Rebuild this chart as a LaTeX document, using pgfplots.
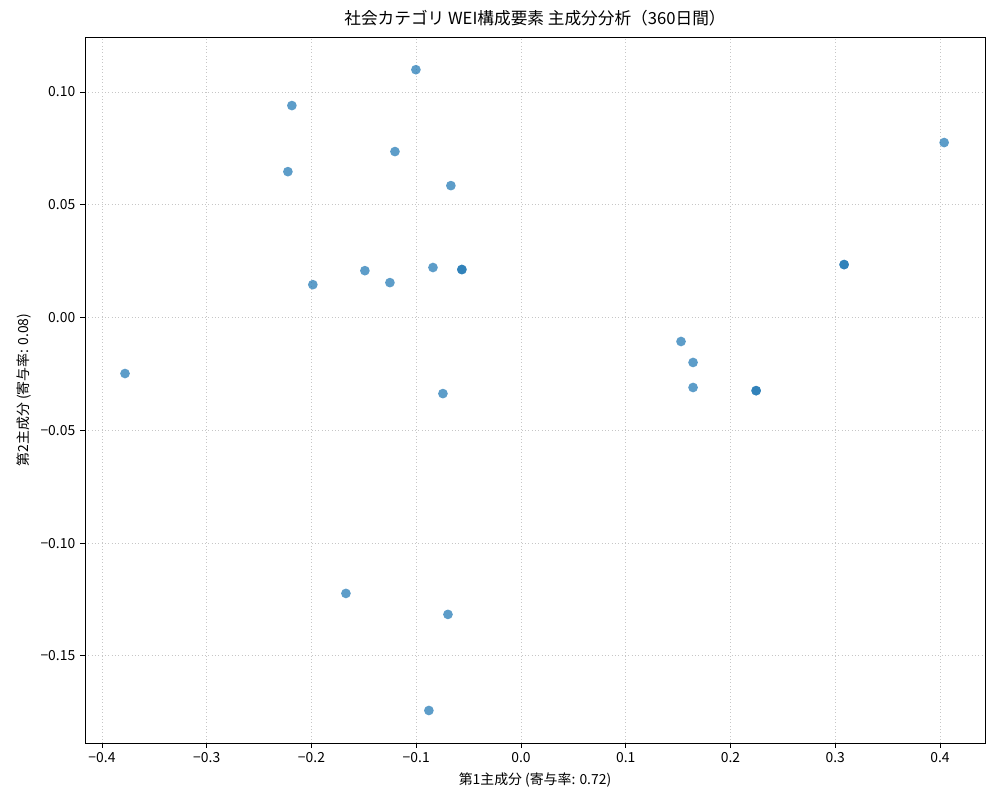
\documentclass[border=0pt]{standalone}
\usepackage{pgfplots}
\pgfplotsset{compat=1.18}
\usepackage{fontspec}
\setmainfont{Noto Sans CJK JP}
\definecolor{tabblue}{HTML}{1F77B4}

\begin{document}
\begin{tikzpicture}
\begin{axis}[
    scale only axis,
    width=648pt, height=508.3pt,
    xmin=-0.4162, xmax=0.443,
    ymin=-0.1886, ymax=0.1244,
    xtick={-0.4,-0.3,-0.2,-0.1,0,0.1,0.2,0.3,0.4},
    xticklabels={−0.4,−0.3,−0.2,−0.1,0.0,0.1,0.2,0.3,0.4},
    ytick={-0.15,-0.1,-0.05,0,0.05,0.1},
    yticklabels={−0.15,−0.10,−0.05,0.00,0.05,0.10},
    tick align=outside,
    major tick length=3.5pt,
    tick style={black, line width=0.6pt},
    xtick pos=bottom, ytick pos=left,
    axis line style={line width=0.6pt},
    grid=major,
    grid style={dotted, gray!45, line width=0.6pt},
    ticklabel style={font=\fontsize{10}{12}\selectfont},
    xlabel={第1主成分 (寄与率: 0.72)},
    ylabel={第2主成分 (寄与率: 0.08)},
    label style={font=\fontsize{10}{12}\selectfont},
    title={社会カテゴリ WEI構成要素 主成分分析（360日間）},
    title style={font=\fontsize{12}{14}\selectfont, yshift=-2pt},
]
\addplot[only marks, color=tabblue, mark=*, mark size=3.5pt,
    mark options={solid, fill=tabblue, draw opacity=0, fill opacity=0.72}]
coordinates {
(-0.1003,0.1099)
(-0.2187,0.0940)
(-0.1203,0.0736)
(-0.2225,0.0647)
(-0.0669,0.0585)
(0.4040,0.0776)
(-0.0840,0.0222)
(-0.0564,0.0213)
(-0.0564,0.0213)
(-0.1490,0.0208)
(-0.1251,0.0155)
(-0.1987,0.0146)
(0.3085,0.0235)
(0.3085,0.0235)
(-0.3780,-0.0248)
(0.1528,-0.0106)
(0.1643,-0.0199)
(0.1643,-0.0310)
(0.2245,-0.0324)
(0.2245,-0.0324)
(-0.0745,-0.0337)
(-0.1671,-0.1223)
(-0.0697,-0.1316)
(-0.0879,-0.1742)
};
\end{axis}
\useasboundingbox ([shift={(-61.2pt,-41.04pt)}]current axis.south west)
    rectangle ([shift={(10.8pt,26.64pt)}]current axis.north east);
\end{tikzpicture}
\end{document}
